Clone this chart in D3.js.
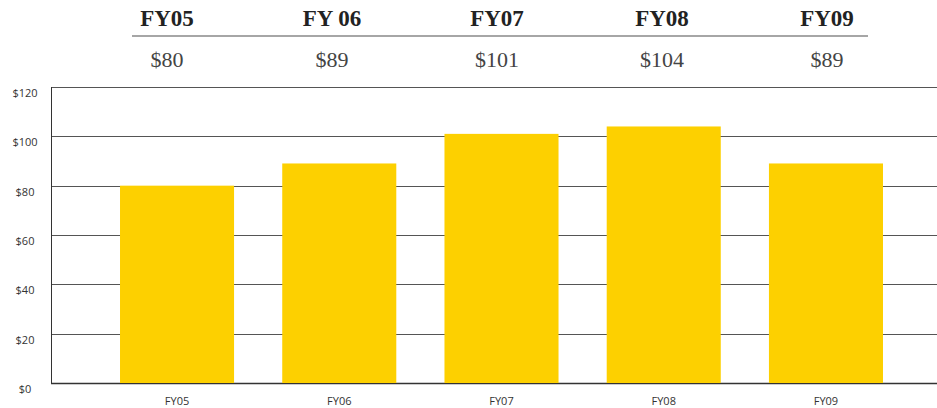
<!DOCTYPE html>
<html>
<head>
<meta charset="utf-8">
<script src="https://cdn.jsdelivr.net/npm/d3@7"></script>
<style>
  body { margin: 0; background: #fff; }
  svg { display: block; }
</style>
</head>
<body>
<div id="chart"></div>
<script>
// data
var years = ["FY05", "FY06", "FY07", "FY08", "FY09"]
var headerLabels = ["FY05", "FY 06", "FY07", "FY08", "FY09"]
var values = [80, 89, 101, 104, 89]
var yTicks = [0, 20, 40, 60, 80, 100, 120]

var width = 937
var height = 408

var svg = d3.select("#chart")
  .append("svg")
  .attr("width", width)
  .attr("height", height)

//scales
var x = d3.scaleBand()
  .domain(years)
  .range([96, 907])
  .paddingInner(0.297)
  .paddingOuter(0.148)

var y = d3.scaleLinear()
  .domain([0, 120])
  .range([383, 87])

//header table on top
var headerX = d3.scalePoint()
  .domain(headerLabels)
  .range([167, 827])

svg.selectAll(".head")
  .data(headerLabels)
  .enter()
  .append("text")
  .attr("class", "head")
  .attr("x", function(d){ return headerX(d) })
  .attr("y", 26)
  .attr("text-anchor", "middle")
  .attr("font-family", "Liberation Serif, serif")
  .attr("font-weight", "bold")
  .attr("font-size", 23)
  .attr("fill", "#222")
  .text(function(d){ return d })

svg.append("line")
  .attr("x1", 132).attr("x2", 868)
  .attr("y1", 36).attr("y2", 36)
  .attr("stroke", "#888")
  .attr("stroke-width", 1.5)

svg.selectAll(".headval")
  .data(values)
  .enter()
  .append("text")
  .attr("class", "headval")
  .attr("x", function(d, i){ return headerX(headerLabels[i]) })
  .attr("y", 67)
  .attr("text-anchor", "middle")
  .attr("font-family", "Liberation Serif, serif")
  .attr("font-size", 22)
  .attr("fill", "#444")
  .text(function(d){ return "$" + d })

//grid lines
svg.selectAll(".grid")
  .data(yTicks)
  .enter()
  .append("line")
  .attr("class", "grid")
  .attr("x1", 51).attr("x2", width)
  .attr("y1", function(d){ return Math.round(y(d)) + 0.5 })
  .attr("y2", function(d){ return Math.round(y(d)) + 0.5 })
  .attr("stroke", function(d){ return d == 0 ? "#333" : "#555" })
  .attr("stroke-width", function(d){ return d == 0 ? 1.5 : 1 })

//left axis line
svg.append("line")
  .attr("x1", 51.5).attr("x2", 51.5)
  .attr("y1", y(120)).attr("y2", y(0))
  .attr("stroke", "#333")

//y labels
svg.selectAll(".ylab")
  .data(yTicks)
  .enter()
  .append("text")
  .attr("class", "ylab")
  .attr("x", 25)
  .attr("y", function(d){ return y(d) + 10 })
  .attr("text-anchor", "middle")
  .attr("font-family", "Open Sans, sans-serif")
  .attr("font-size", 11)
  .attr("fill", "#333")
  .text(function(d){ return "$" + d })

//bars
svg.selectAll(".bar")
  .data(values)
  .enter()
  .append("rect")
  .attr("class", "bar")
  .attr("x", function(d, i){ return x(years[i]) })
  .attr("width", x.bandwidth())
  .attr("y", function(d){ return y(d) })
  .attr("height", function(d){ return y(0) - y(d) })
  .attr("fill", "#fdd000")

//x labels
svg.selectAll(".xlab")
  .data(years)
  .enter()
  .append("text")
  .attr("class", "xlab")
  .attr("x", function(d){ return x(d) + x.bandwidth()/2 })
  .attr("y", 405)
  .attr("text-anchor", "middle")
  .attr("font-family", "Open Sans, sans-serif")
  .attr("font-size", 11)
  .attr("fill", "#333")
  .text(function(d){ return d })
</script>
</body>
</html>
